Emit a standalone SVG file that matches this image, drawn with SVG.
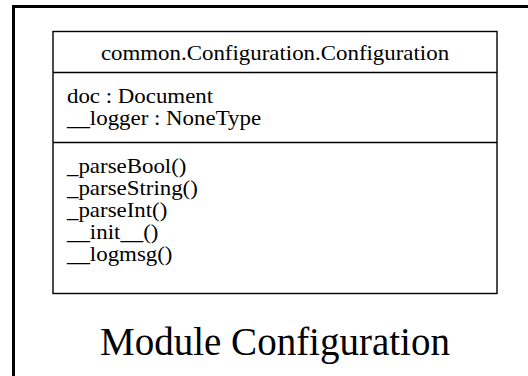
<svg xmlns="http://www.w3.org/2000/svg" width="528" height="376" viewBox="0 0 528 376">
  <style>
    .frame { fill: #ffffff; stroke: #000000; stroke-width: 3; }
    .cls { fill: #ffffff; stroke: #000000; stroke-width: 1.4; }
    .sep { stroke: #000000; stroke-width: 1.4; }
    text { font-family: "Liberation Serif", "Times New Roman", serif; fill: #000000; }
    .member { font-size: 21.5px; }
    .title { font-size: 39px; }
  </style>
  <rect width="528" height="376" fill="#ffffff"/>
  <!-- module frame (continues past the right and bottom edges) -->
  <g id="module">
    <rect class="frame" x="13.5" y="6.5" width="600" height="450"/>
    <text class="title" x="275" y="355" text-anchor="middle">Module Configuration</text>
  </g>
  <!-- class box: name, attributes, operations -->
  <g id="Configuration">
    <rect class="cls" x="53" y="31.5" width="444" height="262"/>
    <line class="sep" x1="53" y1="72.5" x2="497" y2="72.5"/>
    <line class="sep" x1="53" y1="142.5" x2="497" y2="142.5"/>
    <text class="member" transform="translate(275 59.5) scale(1.065 1)" text-anchor="middle">common.Configuration.Configuration</text>
    <text class="member" transform="translate(67 102.5) scale(1.065 1)">doc : Document</text>
    <text class="member" transform="translate(67 125) scale(1.065 1)">__logger : NoneType</text>
    <text class="member" transform="translate(67 172.5) scale(1.065 1)">_parseBool()</text>
    <text class="member" transform="translate(67 194.5) scale(1.065 1)">_parseString()</text>
    <text class="member" transform="translate(67 216.5) scale(1.065 1)">_parseInt()</text>
    <text class="member" transform="translate(67 238.5) scale(1.065 1)">__init__()</text>
    <text class="member" transform="translate(67 260.5) scale(1.065 1)">__logmsg()</text>
  </g>
  <g id="connectors"/>
</svg>
